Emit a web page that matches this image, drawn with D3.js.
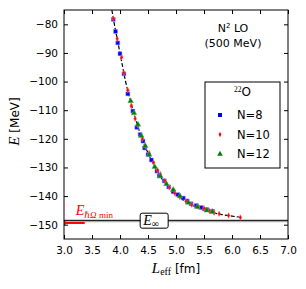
<!DOCTYPE html>
<html>
<head>
<meta charset="utf-8">
<script src="https://cdn.jsdelivr.net/npm/d3@7"></script>
<style>
body { margin: 0; background: #fff; }
text { font-family: "DejaVu Sans", sans-serif; }
.math { font-family: "Liberation Serif", "DejaVu Serif", serif; font-style: italic; }
</style>
</head>
<body>
<div id="chart"></div>
<script>
// values
const xTicks = [3.0, 3.5, 4.0, 4.5, 5.0, 5.5, 6.0, 6.5, 7.0]
const yTicks = [-80, -90, -100, -110, -120, -130, -140, -150]

const n8 = [[3.88, -78.3], [3.92, -82.5], [3.96, -86.5], [4.0, -90.3], [4.07, -97.3], [4.14, -104.3],
    [4.23, -110.3], [4.3, -116], [4.36, -118.5], [4.41, -120.8], [4.44, -123.2], [4.5, -125.5],
    [4.56, -127.4], [4.66, -131.3], [4.7, -133], [4.79, -134.7], [4.87, -136.8], [4.95, -138.5],
    [5.03, -139.5], [5.13, -140.7], [5.2, -141.7], [5.27, -142.7], [5.36, -143.3], [5.45, -144],
    [5.55, -144.7], [5.65, -145.3]]
const n10 = [[3.88, -78.0], [3.95, -85], [4.03, -91.5], [4.07, -97], [4.14, -103], [4.2, -108.5],
    [4.27, -113], [4.32, -115.3], [4.4, -120], [4.45, -122.5], [4.52, -125], [4.6, -128.3],
    [4.67, -131], [4.72, -132.3], [4.8, -134.7], [4.88, -137], [4.98, -139], [5.07, -140.3],
    [5.18, -141.8], [5.28, -143], [5.4, -143.7], [5.5, -144.3], [5.6, -145.2], [5.68, -145.8],
    [5.77, -146.2], [5.94, -146.8], [6.15, -147.5]]
const n12 = [[4.19, -106.8], [4.25, -111], [4.32, -115], [4.38, -119], [4.45, -122.5], [4.52, -125.5],
    [4.62, -129.8], [4.72, -133], [4.83, -135.8], [4.95, -137.8], [5.07, -140], [5.22, -142.3],
    [5.38, -143.8], [5.55, -145], [5.65, -145.5]]
// dashed fit curve
const fit = [[3.855, -75], [3.9, -80], [4.0, -90], [4.1, -100], [4.2, -107.5], [4.3, -114.5],
    [4.4, -120.3], [4.5, -125], [4.6, -129], [4.7, -132.5], [4.8, -135.3], [4.9, -137.6],
    [5.0, -139.4], [5.2, -142.3], [5.4, -144.2], [5.6, -145.5], [5.8, -146.4], [6.0, -147], [6.15, -147.4]]
const eInf = -148.6
const eInfErr = 0.6
const eMin = -149.4
const arrowFrom = 3.37

const margin = { top: 10, right: 18, bottom: 50, left: 64 }
const width = 306 - margin.left - margin.right
const height = 289 - margin.top - margin.bottom

const svg = d3.select("#chart").append("svg")
    .attr("width", 306).attr("height", 289)
const g = svg.append("g").attr("transform", `translate(${margin.left},${margin.top})`)

const x = d3.scaleLinear().domain([3, 7]).range([0, width])
const y = d3.scaleLinear().domain([-155, -75]).range([height, 0])

g.append("clipPath").attr("id", "clip").append("rect").attr("width", width).attr("height", height)
const plot = g.append("g").attr("clip-path", "url(#clip)")

// E_inf band
plot.append("rect")
    .attr("x", 0).attr("width", width)
    .attr("y", y(eInf + eInfErr)).attr("height", y(eInf - eInfErr) - y(eInf + eInfErr))
    .attr("fill", "#bbb").attr("opacity", 0.7)
plot.append("line")
    .attr("x1", 0).attr("x2", width).attr("y1", y(eInf)).attr("y2", y(eInf))
    .attr("stroke", "#000").attr("stroke-width", 1)

// fit
plot.append("path").datum(fit)
    .attr("d", d3.line().x(d => x(d[0])).y(d => y(d[1])).curve(d3.curveMonotoneX))
    .attr("fill", "none").attr("stroke", "#000").attr("stroke-width", 1.2)
    .attr("stroke-dasharray", "4,2")

const sq = d3.symbol().type(d3.symbolSquare).size(16)
const tri = d3.symbol().type(d3.symbolTriangle).size(14)
const dia = "M0,-2.8L1.4,0L0,2.8L-1.4,0Z"

plot.selectAll(".n8").data(n8).join("path").attr("class", "n8")
    .attr("d", sq).attr("transform", d => `translate(${x(d[0])},${y(d[1])})`)
    .attr("fill", "#0000ff").attr("stroke", "#9999ff").attr("stroke-width", 0.5)
plot.selectAll(".n10").data(n10).join("path").attr("class", "n10")
    .attr("d", dia).attr("transform", d => `translate(${x(d[0])},${y(d[1])})`)
    .attr("fill", "#ff0000").attr("stroke", "#ff7777").attr("stroke-width", 0.5)
plot.selectAll(".n12").data(n12).join("path").attr("class", "n12")
    .attr("d", tri).attr("transform", d => `translate(${x(d[0])},${y(d[1])})`)
    .attr("fill", "#008000").attr("stroke", "#66aa66").attr("stroke-width", 0.5)

// red arrow to E_hw min
svg.append("defs").append("marker").attr("id", "ah")
    .attr("viewBox", "0 0 10 10").attr("refX", 2).attr("refY", 5)
    .attr("markerWidth", 3.5).attr("markerHeight", 3.5).attr("orient", "auto")
    .append("path").attr("d", "M10,0L0,5L10,10Z").attr("fill", "#ff0000")
plot.append("line")
    .attr("x1", x(arrowFrom)).attr("x2", x(3.0) + 3).attr("y1", y(eMin)).attr("y2", y(eMin))
    .attr("stroke", "#ff0000").attr("stroke-width", 2).attr("marker-end", "url(#ah)")

const lab = g.append("text").attr("x", x(3.21)).attr("y", y(eMin) - 8)
    .attr("fill", "#ff0000")
lab.append("tspan").attr("class", "math").attr("font-size", 14).text("E")
lab.append("tspan").attr("class", "math").attr("font-size", 9).attr("dy", 3).text("ℏΩ")
lab.append("tspan").attr("font-family", "Liberation Serif, serif").attr("font-size", 9).text(" min")

// E_inf label box
const bx = x(4.36), bw = 28, bh = 15
g.append("rect").attr("x", bx).attr("y", y(eInf) - bh / 2).attr("width", bw).attr("height", bh)
    .attr("rx", 2).attr("fill", "#fff").attr("stroke", "#000").attr("stroke-width", 1)
const ei = g.append("text").attr("x", bx + 3).attr("y", y(eInf) + 4)
ei.append("tspan").attr("class", "math").attr("font-size", 14).text("E")
ei.append("tspan").attr("font-family", "Liberation Serif, serif").attr("font-size", 10).attr("dy", 2).text("∞")

// axes, ticks inward on all sides
const tickIn = 4
g.append("g").attr("transform", `translate(0,${height})`)
    .call(d3.axisBottom(x).tickValues(xTicks).tickFormat(d3.format(".1f")).tickSizeInner(-tickIn).tickSizeOuter(0).tickPadding(8))
g.append("g")
    .call(d3.axisTop(x).tickValues(xTicks).tickFormat("").tickSizeInner(-tickIn).tickSizeOuter(0))
g.append("g")
    .call(d3.axisLeft(y).tickValues(yTicks).tickFormat(d => d3.format("d")(d).replace("-", "\u2212")).tickSizeInner(-tickIn).tickSizeOuter(0).tickPadding(6))
g.append("g").attr("transform", `translate(${width},0)`)
    .call(d3.axisRight(y).tickValues(yTicks).tickFormat("").tickSizeInner(-tickIn).tickSizeOuter(0))
g.selectAll(".domain").remove()
g.selectAll(".tick text").attr("font-size", 10.5).attr("font-family", "DejaVu Sans, sans-serif").attr("fill", "#000")
g.selectAll(".tick line").attr("stroke", "#000")
g.append("rect").attr("width", width).attr("height", height)
    .attr("fill", "none").attr("stroke", "#000").attr("stroke-width", 1)

// axis titles
const xl = svg.append("text").attr("x", margin.left + width / 2).attr("y", 273).attr("text-anchor", "middle")
xl.append("tspan").attr("class", "math").attr("font-size", 15).text("L")
xl.append("tspan").attr("font-family", "Liberation Serif, serif").attr("font-size", 10).attr("dy", 2).text("eff")
xl.append("tspan").attr("font-size", 12).attr("dy", -2).text(" [fm]")

const yl = svg.append("text").attr("transform", `translate(19,${margin.top + height / 2 - 3}) rotate(-90)`)
    .attr("text-anchor", "middle")
yl.append("tspan").attr("class", "math").attr("font-size", 15).text("E")
yl.append("tspan").attr("font-size", 12).text(" [MeV]")

// annotation
const ann = g.append("text").attr("x", 233 - margin.left).attr("y", 32 - margin.top).attr("text-anchor", "middle").attr("font-size", 11)
ann.append("tspan").text("N")
ann.append("tspan").attr("font-size", 7).attr("dy", -4).text("2")
ann.append("tspan").attr("dy", 4).text(" LO")
g.append("text").attr("x", 233 - margin.left).attr("y", 47 - margin.top).attr("text-anchor", "middle").attr("font-size", 11).text("(500 MeV)")

// legend
const legend = svg.append("g").attr("transform", "translate(205,82)")
legend.append("rect").attr("width", 75).attr("height", 86).attr("fill", "#fff").attr("stroke", "#000").attr("stroke-width", 1)
const lt = legend.append("text").attr("x", 37.5).attr("y", 14).attr("text-anchor", "middle")
lt.append("tspan").attr("font-family", "Liberation Serif, serif").attr("font-size", 7.5).attr("dy", -4).text("22")
lt.append("tspan").attr("font-size", 12).attr("dy", 4).text("O")
const items = [["N=8", "#0000ff", sq], ["N=10", "#ff0000", dia], ["N=12", "#008000", tri]]
items.forEach((it, i) => {
    const yy = 33 + i * 19.5
    legend.append("path").attr("d", it[2]).attr("transform", `translate(15,${yy})`).attr("fill", it[1])
    legend.append("text").attr("x", 32).attr("y", yy + 4).attr("font-size", 11.5).text(it[0])
})
</script>
</body>
</html>
